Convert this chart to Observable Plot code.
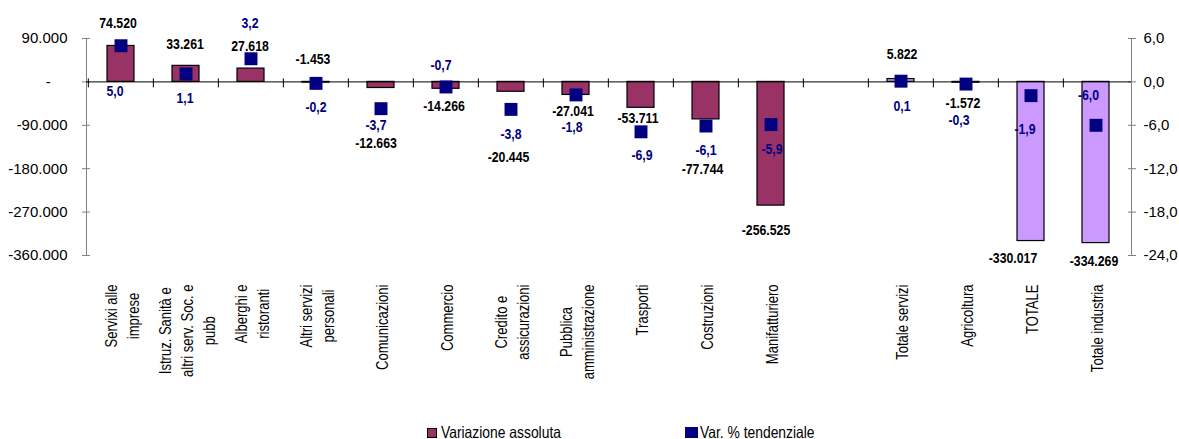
<!DOCTYPE html>
<html>
<head>
<meta charset="utf-8">
<script src="https://cdn.jsdelivr.net/npm/d3@7"></script>
<script src="https://cdn.jsdelivr.net/npm/@observablehq/plot@0.6"></script>
<style>
  body { margin: 0; background: #fff; }
  #chart { width: 1179px; }
  .legend { position: relative; width: 1179px; height: 29px; color: #000; }
  .legend div { position: absolute; white-space: nowrap; }
</style>
</head>
<body>
<div id="chart"></div>
<script>
// ---------- data ----------
const categories = [
  "Servixi alle\nimprese",
  "Istruz. Sanità e\naltri serv. Soc. e\npubb",
  "Alberghi e\nristoranti",
  "Altri servizi\npersonali",
  "Comunicazioni",
  "Commercio",
  "Credito e\nassicurazioni",
  "Pubblica\namministrazione",
  "Trasporti",
  "Costruzioni",
  "Manifatturiero",
  "Totale servizi",
  "Agricoltura",
  "TOTALE",
  "Totale industria"
];
const variazioneAssoluta = [74520, 33261, 27618, -1453, -12663, -14266, -20445, -27041, -53711, -77744, -256525, 5822, -1572, -330017, -334269];
const varPercTendenziale = [5.0, 1.1, 3.2, -0.2, -3.7, -0.7, -3.8, -1.8, -6.9, -6.1, -5.9, 0.1, -0.3, -1.9, -6.0];
const gruppo = ["settore","settore","settore","settore","settore","settore","settore","settore","settore","settore","settore","totale","totale","totale","totale"];
const leftTicks = [90000, 0, -90000, -180000, -270000, -360000];
const rightTicks = [6, 0, -6, -12, -18, -24];
const seriesNames = ["Variazione assoluta", "Var. % tendenziale"];

// ---------- layout (label offsets in px, [dx, dy]) ----------
const barLabelOffset = [[-3,-22.5],[-1,-22],[-1,-22],[-3,-23],[-5,55.5],[-2,17.7],[-2.5,65.7],[-3,16.6],[-3,10.7],[-3.5,50],[-5,25],[1,-24.6],[-3,20.8],[-18,17.5],[-2,18.4]];
const pctLabelOffset = [[-6,45.7],[-1,24.6],[-1,-35.3],[0,24],[-5,17],[-5,-21.5],[0,25],[-4,32.6],[1,23.7],[0,24.5],[1,25],[1,25],[-7,36.4],[-6,34],[-7.5,-30]];

// ---------- fonts ----------
function hasFont(name) {
  const c = document.createElement("canvas").getContext("2d");
  const s = "abcdefghilmnopqrstuvwxyz0123456789";
  c.font = "20px monospace"; const a = c.measureText(s).width;
  c.font = `20px '${name}', monospace`; const b = c.measureText(s).width;
  return Math.abs(a - b) > 0.5;
}
const narrowOK = hasFont("Liberation Sans Narrow");
const NARROW = narrowOK ? "'Liberation Sans Narrow', 'Liberation Sans', sans-serif" : "'Liberation Sans', Arial, sans-serif";
const SQUEEZE_VAL = narrowOK ? 1 : 0.82;   // horizontal compression to mimic Arial Narrow
const SQUEEZE_CAT = narrowOK ? 1 : 0.79;
const AXISFONT = "'Liberation Sans', Arial, sans-serif";

// ---------- formats ----------
const loc = d3.formatLocale({decimal: ",", thousands: ".", grouping: [3], currency: ["", ""], minus: "-"});
const fmtInt = loc.format(",d");
const fmtPct = v => (Math.round(v * 10) / 10).toFixed(1).replace(".", ",");

// ---------- derived ----------
const W = 1179, H = 410, ML = 86, MR = 48, MT = 38, MB = H - 255;
const RATIO = leftTicks[0] / rightTicks[0];
const GAP = " ";
const slotDomain = [...categories.slice(0, 11), GAP, ...categories.slice(11)];
const step = (W - ML - MR) / slotDomain.length;
const yDomain = [leftTicks[leftTicks.length - 1], leftTicks[0]];
const UPP = (yDomain[1] - yDomain[0]) / (H - MT - MB);
const rows = categories.map((c, i) => ({cat: c, abs: variazioneAssoluta[i], pct: varPercTendenziale[i], grp: gruppo[i], i}));
const MAROON = "#993366", LILAC = "#CC99FF", NAVY = "#000080";

const barLabels = rows.map((r, i) => Plot.text([r], {
  x: "cat", y: "abs", text: d => fmtInt(d.abs),
  dx: barLabelOffset[i][0], dy: barLabelOffset[i][1],
  fill: "#000", fontWeight: "bold", fontSize: 15, fontFamily: NARROW
}));
const pctLabels = rows.map((r, i) => Plot.text([r], {
  x: "cat", y: d => d.pct * RATIO, text: d => fmtPct(d.pct),
  dx: pctLabelOffset[i][0], dy: pctLabelOffset[i][1],
  fill: NAVY, fontWeight: "bold", fontSize: 15, fontFamily: NARROW
}));

const chart = Plot.plot({
  width: W, height: H,
  marginLeft: ML, marginRight: MR, marginTop: MT, marginBottom: MB,
  style: {background: "#fff", color: "#000", overflow: "visible"},
  x: {domain: slotDomain, paddingInner: 0.58, paddingOuter: 0.29, axis: null},
  y: {domain: yDomain, axis: null},
  color: {type: "identity"},
  marks: [
    Plot.frame({anchor: "left", stroke: "#808080"}),
    Plot.frame({anchor: "right", stroke: "#808080"}),
    Plot.axisY(leftTicks, {
      anchor: "left", label: null, tickSize: 8, dx: 4, tickPadding: 15,
      tickFormat: v => v === 0 ? "-\u00a0\u00a0\u00a0\u00a0" : fmtInt(v),
      fontSize: 15, fontFamily: AXISFONT, stroke: "#808080", fill: "#000"
    }),
    Plot.axisY(rightTicks.map(v => v * RATIO), {
      anchor: "right", label: null, tickSize: 8, dx: -4, tickPadding: 8,
      tickFormat: v => fmtPct(v / RATIO),
      fontSize: 15, fontFamily: AXISFONT, stroke: "#808080", fill: "#000"
    }),
    Plot.barY(rows, {
      x: "cat", y: "abs",
      fill: d => d.grp === "totale" ? LILAC : MAROON,
      stroke: "#000", strokeWidth: 1.2
    }),
    Plot.ruleY([0], {stroke: "#000", strokeWidth: 1}),
    Plot.ruleX(slotDomain, {x: d => d, y1: 3 * UPP, y2: -6 * UPP, dx: -step / 2, stroke: "#000", strokeWidth: 1}),
    Plot.dot(rows, {x: "cat", y: d => d.pct * RATIO, symbol: "square", r: 7.3, fill: NAVY, stroke: "none"}),
    ...barLabels,
    ...pctLabels,
    Plot.text(rows, {
      x: "cat", text: "cat", frameAnchor: "bottom", dy: 29,
      rotate: -90, textAnchor: "end", lineAnchor: "middle", lineHeight: 1.34,
      fontSize: 16.5, fontFamily: NARROW, fill: "#000"
    })
  ]
});

const host = document.getElementById("chart");
host.appendChild(chart);

// identify label texts (category labels are the rotated ones; value labels by content, outside axes)
const valueStrings = new Set([...variazioneAssoluta.map(fmtInt), ...varPercTendenziale.map(fmtPct)]);
const catTexts = [], valueTexts = [];
chart.querySelectorAll("text").forEach(t => {
  const inAxis = t.closest('g[aria-label*="axis"]');
  if (inAxis) return;
  const tr = t.getAttribute("transform") || "";
  if (tr.includes("rotate")) catTexts.push(t);
  else if (valueStrings.has(t.textContent.trim())) valueTexts.push(t);
});

// center the lines of multi-line category labels on each other
catTexts.forEach(t => {
  const spans = Array.from(t.querySelectorAll("tspan"));
  if (spans.length < 2) return;
  const lens = spans.map(s => s.getComputedTextLength());
  const max = Math.max(...lens);
  spans.forEach((s, j) => s.setAttribute("dx", -(max - lens[j]) / 2));
});

// condense label text horizontally (Arial Narrow look)
function condense(t, s) {
  if (s === 1) return;
  const tr = t.getAttribute("transform");
  if (tr) {
    t.setAttribute("transform", `${tr} scale(${s},1)`);
  } else {
    const x = +(t.getAttribute("x") || 0), y = +(t.getAttribute("y") || 0);
    t.removeAttribute("x"); t.removeAttribute("y");
    t.setAttribute("transform", `translate(${x},${y}) scale(${s},1)`);
  }
}
catTexts.forEach(t => condense(t, SQUEEZE_CAT));
valueTexts.forEach(t => condense(t, SQUEEZE_VAL));

// legend
const legend = document.createElement("div");
legend.className = "legend";
legend.style.fontFamily = NARROW;
legend.style.fontSize = "16.5px";
const tx = `transform:scaleX(${narrowOK ? 1 : 0.84});transform-origin:0 50%;`;
legend.innerHTML = `
  <div style="left:427px;top:18px;width:8px;height:8px;background:${MAROON};border:1px solid #000"></div>
  <div style="left:441px;top:13px;line-height:18px;${tx}">${seriesNames[0]}</div>
  <div style="left:685px;top:17px;width:13px;height:11px;background:${NAVY}"></div>
  <div style="left:700px;top:13px;line-height:18px;${tx}">${seriesNames[1]}</div>`;
host.appendChild(legend);
</script>
</body>
</html>
